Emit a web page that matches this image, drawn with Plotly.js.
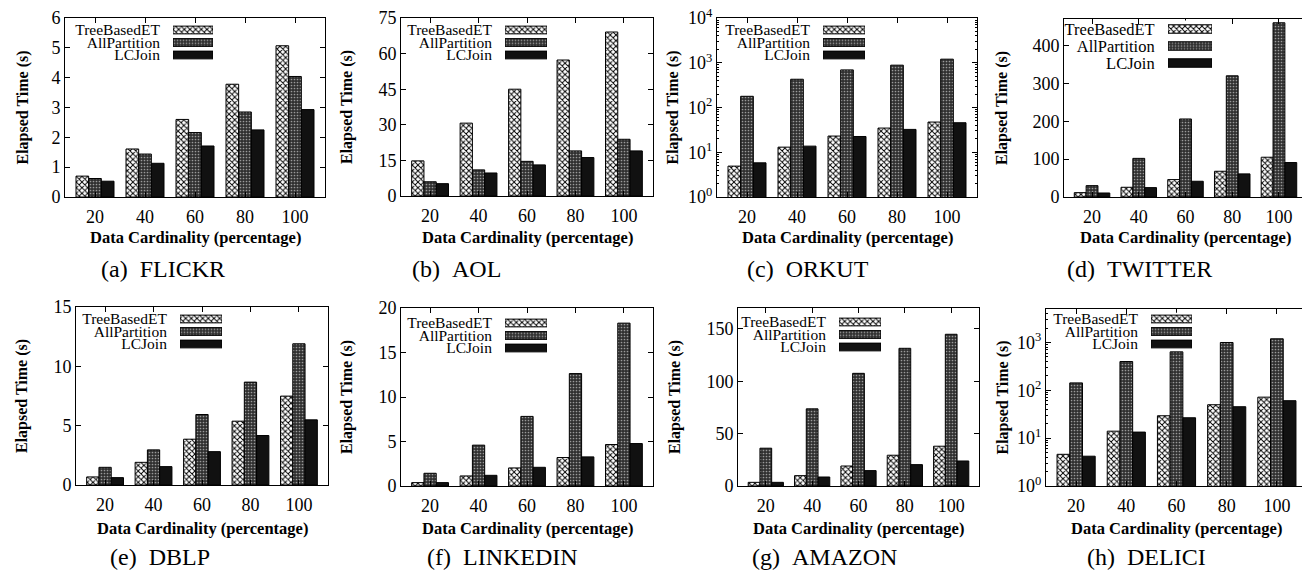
<!DOCTYPE html>
<html><head><meta charset="utf-8">
<script src="https://cdn.plot.ly/plotly-3.0.1.min.js"></script>
<style>html,body{margin:0;padding:0;background:#fff;overflow:hidden;width:1302px;height:570px;}#chart{width:1308px;height:570px;}</style>
</head><body><div id="chart"></div>
<script>
// ---------- DATA ----------
const categories = ['20', '40', '60', '80', '100'];
const seriesNames = ['TreeBasedET', 'AllPartition', 'LCJoin'];
const panelLetters = ['(a)', '(b)', '(c)', '(d)', '(e)', '(f)', '(g)', '(h)'];
const datasetNames = ['FLICKR', 'AOL', 'ORKUT', 'TWITTER', 'DBLP', 'LINKEDIN', 'AMAZON', 'DELICI'];
const xTitleText = 'Data Cardinality (percentage)';
const yTitleText = 'Elapsed Time (s)';

const flickrTree = [0.70, 1.61, 2.60, 3.78, 5.07];
const flickrAll  = [0.62, 1.44, 2.16, 2.85, 4.04];
const flickrLC   = [0.53, 1.13, 1.71, 2.25, 2.93];

const aolTree = [14.8, 30.7, 45.0, 57.3, 69.1];
const aolAll  = [6.0, 11.0, 14.6, 19.0, 23.9];
const aolLC   = [5.2, 9.7, 13.1, 16.2, 19.0];

const orkutTree = [4.9, 13.0, 23.0, 34.7, 47.3];
const orkutAll  = [178, 428, 693, 883, 1203];
const orkutLC   = [5.8, 13.7, 22.5, 32.4, 45.7];

const twitterTree = [11.5, 25.7, 46, 68, 105];
const twitterAll  = [30, 102, 206, 320, 460];
const twitterLC   = [10.6, 24.8, 41.6, 61, 91];

const dblpTree = [0.68, 1.91, 3.86, 5.38, 7.49];
const dblpAll  = [1.49, 2.96, 5.94, 8.67, 11.9];
const dblpLC   = [0.62, 1.55, 2.81, 4.17, 5.49];

const linkedinTree = [0.38, 1.13, 2.03, 3.2, 4.66];
const linkedinAll  = [1.43, 4.59, 7.82, 12.63, 18.3];
const linkedinLC   = [0.38, 1.2, 2.1, 3.27, 4.77];

const amazonTree = [3.5, 9.9, 19.1, 29.4, 38.0];
const amazonAll  = [36.1, 73.7, 107.6, 131.5, 144.9];
const amazonLC   = [3.5, 8.6, 14.7, 20.4, 23.9];

const deliciTree = [4.6, 14, 29.4, 50, 72];
const deliciAll  = [143, 400, 637, 1000, 1194];
const deliciLC   = [4.2, 13.4, 26.7, 45.4, 60.7];

const logTickVals = [1, 10, 100, 1000, 10000];
const logTickText = ['10<sup>0</sup>', '10<sup>1</sup>', '10<sup>2</sup>', '10<sup>3</sup>', '10<sup>4</sup>'];
const legendKeyLength = [1];

// ---------- LAYOUT / STYLE ----------
const W = 1308, H = 570;   // page window is 1302 wide: the right edge is cut as in the original
const panelSeries = [
  [flickrTree, flickrAll, flickrLC],
  [aolTree, aolAll, aolLC],
  [orkutTree, orkutAll, orkutLC],
  [twitterTree, twitterAll, twitterLC],
  [dblpTree, dblpAll, dblpLC],
  [linkedinTree, linkedinAll, linkedinLC],
  [amazonTree, amazonAll, amazonLC],
  [deliciTree, deliciAll, deliciLC]
];
// box: [left, right, top, bottom] in px
const panels = [
  {box:[65,325,18,197],    yr:[0,6],   dtick:1,   log:false, yt:22,   cap:163,  capY:269, xtY:238, leg:{x:[173,213],   rows:[23.75,61.25],   fs:15.5, w:0.62}},
  {box:[401,653,18,196],   yr:[0,75],  dtick:15,  log:false, yt:347,  cap:456,  capY:269, xtY:238, leg:{x:[505,547],   rows:[23.75,61.25],   fs:15.5, w:0.62}},
  {box:[717,977,18,197],   yr:[0,4],   dtick:null,log:true,  yt:672,  cap:808,  capY:269, xtY:238, leg:{x:[823,865],   rows:[23.75,61.25],   fs:15.5, w:0.62}},
  {box:[1064,1307,19,197], yr:[0,470], dtick:100, log:false, yt:1002, cap:1139, capY:269, xtY:238, leg:{x:[1168,1212], rows:[20.5,71.5],     fs:16.5, w:0.5}},
  {box:[76,328,307,485],   yr:[0,15],  dtick:5,   log:false, yt:22,   cap:160,  capY:557, xtY:528, leg:{x:[180,222],   rows:[312.75,350.25], fs:15.5, w:0.62}},
  {box:[401,653,308,486],  yr:[0,20],  dtick:5,   log:false, yt:347,  cap:502,  capY:557, xtY:528, leg:{x:[505,547],   rows:[316.75,354.25], fs:15.5, w:0.62}},
  {box:[738,979,308,486],  yr:[0,170], dtick:50,  log:false, yt:675,  cap:824,  capY:557, xtY:528, leg:{x:[839,881],   rows:[315.75,353.25], fs:15.5, w:0.62}},
  {box:[1046,1307,309,486],yr:[0,3.7], dtick:null,log:true,  yt:1003, cap:1146, capY:557, xtY:528, leg:{x:[1151,1192], rows:[312.75,350.25], fs:15.5, w:0.62}}
];
const XRANGE = [-0.6, 4.6];

const FONT = 'Liberation Serif, Times New Roman, serif';
const barColors = ['#ffffff', '#303030', '#111111'];
const patterns = [
  {shape: 'x', bgcolor: '#ffffff', fgcolor: '#000000', size: 4, solidity: 0.42},
  {shape: '.', bgcolor: '#303030', fgcolor: '#9a9a9a', size: 3, solidity: 0.25},
  null
];

const traces = [];
const layout = {
  width: W, height: H,
  margin: {l:0, r:0, t:0, b:0},
  paper_bgcolor: '#ffffff', plot_bgcolor: '#ffffff',
  font: {family: FONT, color: '#000', size: 17},
  barmode: 'group', bargap: 0.24, bargroupgap: 0,
  showlegend: false,
  annotations: []
};

const px2x = p => p / W;
const px2y = p => 1 - p / H;

function markerFor(k) {
  const m = {color: barColors[k], line: {color: '#000', width: 1}};
  if (patterns[k]) m.pattern = Object.assign({}, patterns[k]);
  return m;
}

panels.forEach((p, i) => {
  const n = i + 1;
  const xa = 'xaxis' + (n === 1 ? '' : n), ya = 'yaxis' + (n === 1 ? '' : n);
  const xr = 'x' + (n === 1 ? '' : n), yr = 'y' + (n === 1 ? '' : n);
  const [L, R, T, B] = p.box;

  seriesNames.forEach((s, k) => {
    traces.push({
      type: 'bar', name: s, x: categories, y: panelSeries[i][k],
      xaxis: xr, yaxis: yr, marker: markerFor(k)
    });
  });

  layout[xa] = {
    domain: [px2x(L), px2x(R)], anchor: yr, type: 'category', range: XRANGE,
    ticks: 'inside', ticklen: 5, tickcolor: '#000', mirror: 'allticks',
    showline: true, linecolor: '#000', linewidth: 1,
    showgrid: false, zeroline: false, fixedrange: true,
    tickfont: {family: FONT, size: 18, color: '#000'}, ticklabelstandoff: 3
  };
  const yax = {
    domain: [px2y(B), px2y(T)], anchor: xr,
    ticks: 'inside', ticklen: 5, tickcolor: '#000', mirror: 'allticks',
    showline: true, linecolor: '#000', linewidth: 1,
    showgrid: false, zeroline: false, fixedrange: true,
    tickfont: {family: FONT, size: 18, color: '#000'}
  };
  if (p.log) {
    Object.assign(yax, {type: 'log', range: p.yr, tickmode: 'array', tickvals: logTickVals, ticktext: logTickText,
      minor: {ticks: 'inside', ticklen: 2, tickcolor: '#000', dtick: 'D1'}});
  } else {
    Object.assign(yax, {type: 'linear', range: p.yr, tick0: 0, dtick: p.dtick});
  }
  layout[ya] = yax;

  // legend keys: text on the left, swatch on the right, as in the original
  const m = n + 8;
  seriesNames.forEach((s, k) => {
    traces.push({
      type: 'bar', orientation: 'h', x: legendKeyLength, y: [s], name: s,
      xaxis: 'x' + m, yaxis: 'y' + m, width: p.leg.w, offset: -p.leg.w / 2,
      hoverinfo: 'skip', showlegend: false, marker: markerFor(k)
    });
  });
  layout['xaxis' + m] = {domain: [px2x(p.leg.x[0]), px2x(p.leg.x[1])], anchor: 'y' + m, range: [0, 1], visible: false, fixedrange: true};
  layout['yaxis' + m] = {
    domain: [px2y(p.leg.rows[1]), px2y(p.leg.rows[0])], anchor: 'x' + m, type: 'category',
    categoryorder: 'array', categoryarray: seriesNames, range: [2.5, -0.5],
    tickmode: 'array', tickvals: seriesNames, ticktext: seriesNames,
    showline: false, showgrid: false, zeroline: false,
    ticks: 'outside', ticklen: 9, tickcolor: 'rgba(0,0,0,0)', fixedrange: true,
    tickfont: {family: FONT, size: p.leg.fs, color: '#000'}
  };

  // axis titles and caption
  layout.annotations.push({
    xref: 'paper', yref: 'paper', x: px2x(p.yt), y: px2y((T + B) / 2), text: yTitleText, textangle: -90,
    showarrow: false, xanchor: 'center', yanchor: 'middle',
    font: {family: FONT, size: 16, weight: 'bold', color: '#000'}
  });
  layout.annotations.push({
    xref: 'paper', yref: 'paper', x: px2x((L + R) / 2), y: px2y(p.xtY), text: xTitleText,
    showarrow: false, xanchor: 'center', yanchor: 'middle',
    font: {family: FONT, size: 16.5, weight: 'bold', color: '#000'}
  });
  layout.annotations.push({
    xref: 'paper', yref: 'paper', x: px2x(p.cap), y: px2y(p.capY),
    text: panelLetters[i] + '\u2002' + datasetNames[i],
    showarrow: false, xanchor: 'center', yanchor: 'middle',
    font: {family: FONT, size: 24, color: '#000'}
  });
});

Plotly.newPlot('chart', traces, layout, {displayModeBar: false, staticPlot: true});
</script></body></html>
